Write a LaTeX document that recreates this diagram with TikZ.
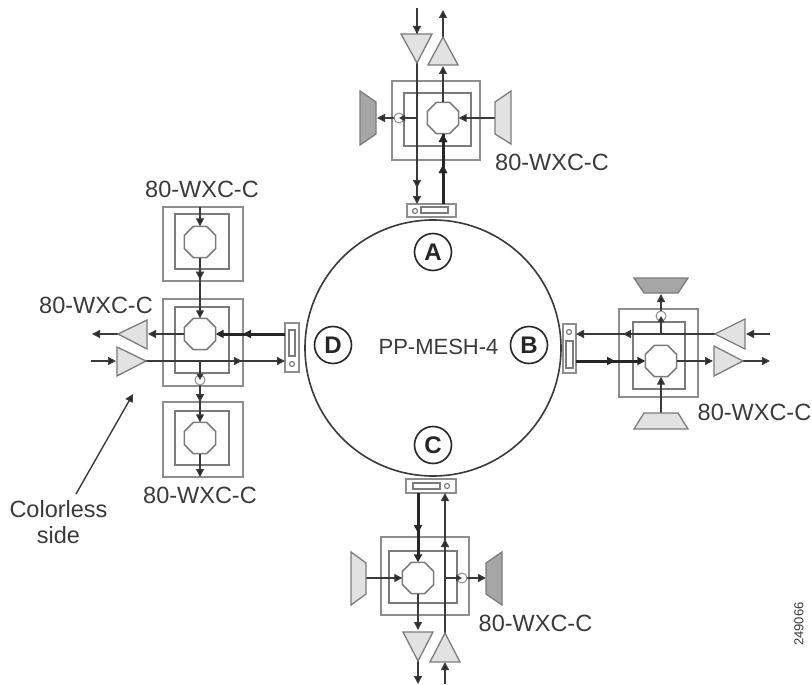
\documentclass[tikz,border=0pt]{standalone}
\usepackage{fontspec}
\setmainfont{Liberation Sans}
\usetikzlibrary{shapes.geometric,arrows.meta,decorations.markings}
\definecolor{ink}{HTML}{3A3A3A}
\definecolor{boxc}{HTML}{8E8E8E}
\definecolor{lite}{HTML}{E2E2E2}
\definecolor{dark}{HTML}{A6A6A6}
\definecolor{edge}{HTML}{7C7C7C}
\tikzset{
  x=1pt,y=-1pt,
  wire/.style={draw=ink,line width=1.4pt},
  thick wire/.style={draw=black!85,line width=3pt},
  arrowend/.style={-{Triangle[length=8pt,width=8pt,fill=black!85]}},
  smallend/.style={-{Triangle[length=6pt,width=6.5pt,fill=black!85]}},
  mk/.style={postaction={decorate},decoration={markings,mark=at position #1 with {\arrow{Triangle[length=8pt,width=8pt,fill=black!85]}}}},
  octa/.style={draw=edge,fill=white,line width=1.5pt,regular polygon,regular polygon sides=8,minimum size=34pt,inner sep=0pt,outer sep=0pt},
  outerbox/.style={draw=boxc,line width=1.8pt},
  innerbox/.style={draw=edge,line width=1.8pt},
  amp/.style={draw=edge,fill=lite,line width=1.3pt,line join=miter},
  darkmux/.style={draw=edge,fill=dark,line width=1.3pt},
  litemux/.style={draw=edge,fill=lite,line width=1.3pt},
  port/.style={draw=boxc,fill=white,line width=1.4pt,inner sep=0pt,outer sep=0pt},
  slot/.style={draw=edge,fill=white,line width=1.2pt},
  tap/.style={draw=boxc,fill=white,line width=1pt,circle,minimum size=10pt,inner sep=0pt},
  lbl/.style={font=\fontsize{23.5}{27}\selectfont,text=ink,inner sep=0pt},
  letter/.style={draw=black!85,line width=1.6pt,circle,minimum size=37pt,inner sep=0pt,font=\fontsize{24}{28}\selectfont\bfseries,text=black!85},
}
\begin{document}
\begin{tikzpicture}
\useasboundingbox (0,0) rectangle (812,685);
\fill[white] (0,0) rectangle (812,685);

% ring
\node[draw=ink,line width=1.6pt,circle,minimum size=256pt,inner sep=0pt] (ring) at (433,348) {};
\node[letter] (A) at (433,252) {A};
\node[letter] (B) at (529,345) {B};
\node[letter] (C) at (433,445) {C};
\node[letter] (D) at (333,345) {D};
\node[lbl,font=\fontsize{22}{26}\selectfont] (mesh) at (438.5,347) {PP-MESH-4};

% ---------- top unit
\draw[outerbox] (392,81) rectangle (480,160);
\draw[innerbox] (404,93) rectangle (471,146);
\node[port,minimum width=49pt,minimum height=13pt] (pa) at (431.5,210.5) {};
\draw[slot] (421,207) rectangle (448,213);
\draw[slot] (415,211) circle (2.5);
\coordinate (a1) at (417,8);
\coordinate (a2) at (417,204);
\coordinate (a3) at (443,204);
\coordinate (a4) at (443,10);
\coordinate (a5) at (417,118);
\node[octa] (oa) at (443,118) {};
\draw[wire,mk=26pt] (a1) -- (417,34);
\draw[wire,mk=125pt,arrowend] (417,63) -- (a2);
\draw[wire,arrowend] (oa.north) -- (443,66);
\draw[wire,arrowend] (443,37) -- (a4);
\draw[thick wire,mk=39pt,mk=70pt] (a3) -- (oa.south);
\draw[wire,arrowend] (a5) -- (377,118);
\draw[wire,arrowend] (495,118) -- (oa.east);
\node[tap] (ta) at (399,118) {};
\draw[wire,smallend] (ta.east) -- (ta.center);
\filldraw[amp] (401,34) -- (432,34) -- (417,63) -- cycle;
\filldraw[amp] (443,37) -- (428,65) -- (458,65) -- cycle;
\filldraw[darkmux] (360,91) -- (376,102) -- (376,134) -- (360,145) -- cycle;
\filldraw[litemux] (511,91) -- (495,102) -- (495,134) -- (511,144) -- cycle;

% ---------- left column
\draw[outerbox] (163,207) rectangle (243,281);
\draw[innerbox] (175,214) rectangle (229,269);
\draw[outerbox] (163,299) rectangle (243,386);
\draw[innerbox] (175,307) rectangle (229,373);
\draw[outerbox] (163,402) rectangle (243,477);
\draw[innerbox] (175,411) rectangle (229,465);
\node[octa] (od1) at (200,242) {};
\node[octa] (od2) at (200,334) {};
\node[octa] (od3) at (200,438) {};
\node[port,minimum width=14pt,minimum height=49pt] (pd) at (292,347.5) {};
\draw[slot] (289,330) rectangle (295,356);
\draw[slot] (292,364) circle (2.5);
\coordinate (d1) at (200,207);
\coordinate (d2) at (200,477);
\coordinate (d3) at (92,334);
\coordinate (d4) at (91,361);
\coordinate (d5) at (285,361);
\coordinate (d6) at (200,361);
\coordinate (d7) at (285,334);
\draw[wire,arrowend] (d1) -- (od1.north);
\draw[wire,mk=22pt,arrowend] (od1.south) -- (od2.north);
\draw[wire,mk=41pt,arrowend] (d6) -- (od3.north);
\draw[wire,arrowend] (od3.south) -- (d2);
\draw[wire,arrowend] (od2.west) -- (148,334);
\draw[wire,arrowend] (118,334) -- (d3);
\draw[wire,arrowend] (d4) -- (116,361);
\draw[wire,mk=96pt,arrowend] (146,361) -- (d5);
\draw[thick wire,mk=42pt,arrowend] (d7) -- (od2.east);
\node[tap] (td) at (200,380) {};
\draw[wire,smallend] (td.north) -- (td.center);
\filldraw[amp] (118,334) -- (147,320) -- (147,349) -- cycle;
\filldraw[amp] (117,347) -- (117,376) -- (146,361) -- cycle;

% ---------- right unit
\draw[outerbox] (619,309) rectangle (698,397);
\draw[innerbox] (633,322) rectangle (685,389);
\node[octa] (ob) at (661,361) {};
\node[port,minimum width=13pt,minimum height=49pt] (pb) at (569.5,348.5) {};
\draw[slot] (566,341) rectangle (573,368);
\draw[slot] (569,332) circle (2.5);
\coordinate (b1) at (770,334);
\coordinate (b2) at (770,361);
\coordinate (b3) at (576,334);
\coordinate (b4) at (576,361);
\coordinate (b5) at (661,334);
\draw[wire,arrowend] (b1) -- (746,334);
\draw[wire,mk=92pt,arrowend] (715,334) -- (b3);
\draw[thick wire,mk=39pt,arrowend] (b4) -- (ob.west);
\draw[wire,arrowend] (ob.east) -- (713,361);
\draw[wire,arrowend] (743,361) -- (b2);
\draw[wire,arrowend] (b5) -- (661,294);
\draw[wire,arrowend] (661,413) -- (ob.south);
\node[tap] (tb) at (661,316) {};
\draw[wire,smallend] (tb.south) -- (tb.center);
\filldraw[amp] (715,334) -- (745,319) -- (745,349) -- cycle;
\filldraw[amp] (714,346) -- (714,376) -- (743,361) -- cycle;
\filldraw[darkmux] (634,278) -- (688,278) -- (678,293) -- (644,293) -- cycle;
\filldraw[litemux] (644,413) -- (678,413) -- (688,429) -- (634,429) -- cycle;

% ---------- bottom unit
\draw[outerbox] (381,537) rectangle (469,615);
\draw[innerbox] (389,551) rectangle (457,603);
\node[octa] (oc) at (418,578) {};
\node[port,minimum width=50pt,minimum height=14pt] (pc) at (431,486) {};
\draw[slot] (413,483) rectangle (440,489);
\draw[slot] (447,486) circle (2.5);
\coordinate (c1) at (418,493);
\coordinate (c2) at (445,493);
\coordinate (c3) at (445,684);
\coordinate (c4) at (418,684);
\coordinate (c5) at (445,578);
\draw[thick wire,mk=40pt,arrowend] (c1) -- (oc.north);
\draw[wire,arrowend] (oc.south) -- (418,630);
\draw[wire,arrowend] (418,661) -- (c4);
\draw[wire,arrowend] (c3) -- (445,662);
\draw[wire,mk=94pt,arrowend] (445,633) -- (c2);
\draw[wire,arrowend] (c5) -- (486,578);
\draw[wire,arrowend] (366,578) -- (oc.west);
\node[tap] (tc) at (462,578) {};
\draw[wire,smallend] (tc.west) -- (tc.center);
\filldraw[amp] (403,632) -- (433,632) -- (418,661) -- cycle;
\filldraw[amp] (445,633) -- (430,662) -- (460,662) -- cycle;
\filldraw[litemux] (351,552) -- (366,563) -- (366,594) -- (351,605) -- cycle;
\filldraw[darkmux] (502,552) -- (486,563) -- (486,594) -- (502,605) -- cycle;

% ---------- labels
\node[lbl] (l1) at (552,162) {80-WXC-C};
\node[lbl] (l2) at (202,189) {80-WXC-C};
\node[lbl] (l3) at (96,305) {80-WXC-C};
\node[lbl] (l4) at (200,495) {80-WXC-C};
\node[lbl] (l5) at (754.5,412) {80-WXC-C};
\node[lbl] (l6) at (535.5,623) {80-WXC-C};
\node[lbl,align=center,font=\fontsize{23.5}{26}\selectfont] (cs) at (58.5,522) {Colorless\\side};
\coordinate (csa) at (76,494);
\coordinate (csb) at (133,394);
\draw[wire,arrowend] (csa) -- (csb);
\node[rotate=90,font=\fontsize{13}{15}\selectfont,text=ink,inner sep=0pt] (id) at (799,624) {249066};
\end{tikzpicture}
\end{document}
